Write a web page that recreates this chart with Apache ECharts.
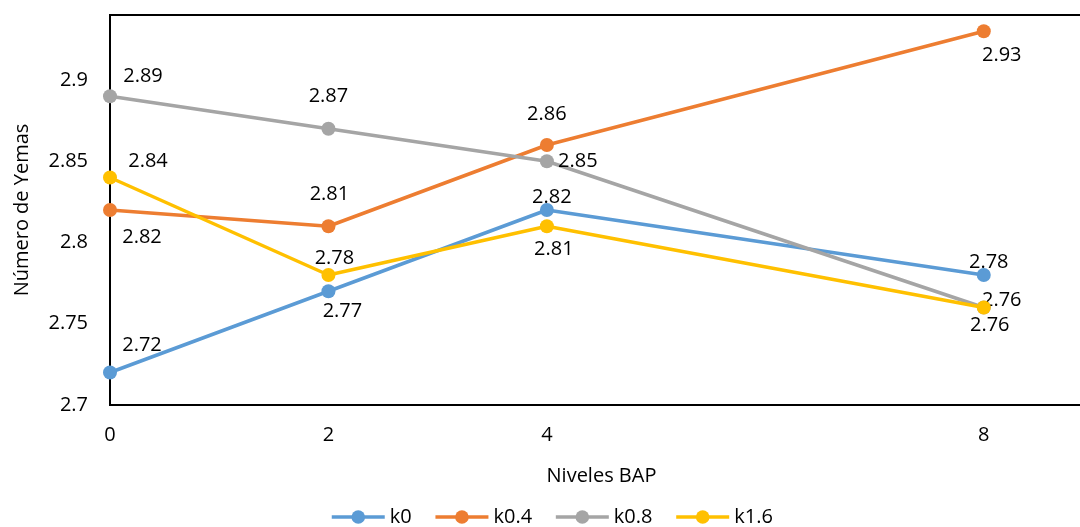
<!DOCTYPE html>
<html>
<head>
<meta charset="utf-8">
<script src="https://cdn.jsdelivr.net/npm/echarts@6/dist/echarts.min.js"></script>
<style>
  html, body { margin: 0; padding: 0; background: #fff; }
  #chart { width: 1080px; height: 527px; }
</style>
</head>
<body>
<div id="chart"></div>
<script>
// BAP levels on the x axis
const nivelesBAP = [0, 2, 4, 8];
const xTickLabels = [0, 2, 4, 8];
const yTickLabels = [2.7, 2.75, 2.8, 2.85, 2.9];

// Number of buds per treatment
const seriesNames = ['k0', 'k0.4', 'k0.8', 'k1.6'];
const k0 = [2.72, 2.77, 2.82, 2.78];
const k04 = [2.82, 2.81, 2.86, 2.93];
const k08 = [2.89, 2.87, 2.85, 2.76];
const k16 = [2.84, 2.78, 2.81, 2.76];

const colors = ['#5B9BD5', '#ED7D31', '#A5A5A5', '#FFC000'];

// Where each value label sits relative to its marker (px)
const labelOffsets = [
  [[32, -27], [14, 20], [5, -13], [5, -13]],
  [[32, 27], [1, -32], [0, -31], [18, 24]],
  [[33, -20], [0, -32], [31, 0], [18, -7]],
  [[38, -16], [6, -17], [7, 23], [6, 18]]
];

const FONT = 'Open Sans';
const FS = 20;

function buildSeries(name, values, idx) {
  return {
    name: name,
    type: 'line',
    data: values.map((v, i) => ({
      value: [nivelesBAP[i], v],
      label: { offset: labelOffsets[idx][i] }
    })),
    symbol: 'circle',
    symbolSize: 14,
    lineStyle: { width: 3.5, color: colors[idx] },
    itemStyle: { color: colors[idx] },
    label: {
      show: true,
      position: 'inside',
      color: '#000',
      fontFamily: FONT,
      fontSize: FS,
      formatter: p => p.value[1].toFixed(2)
    },
    emphasis: { disabled: true },
    animation: false,
    z: 2 + idx
  };
}

const chart = echarts.init(document.getElementById('chart'), null, { renderer: 'canvas' });
chart.setOption({
  backgroundColor: '#fff',
  animation: false,
  textStyle: { fontFamily: FONT },
  grid: {
    left: 110, top: 15, width: 983, height: 390,
    show: true, borderColor: '#000', borderWidth: 2,
    containLabel: false,
    outerBoundsMode: 'none'
  },
  xAxis: {
    type: 'value',
    min: 0, max: 9,
    name: 'Niveles BAP',
    nameLocation: 'middle',
    nameGap: 61,
    nameTextStyle: { color: '#000', fontFamily: FONT, fontSize: FS },
    axisLine: { show: false },
    axisTick: { show: false },
    splitLine: { show: false },
    axisLabel: {
      customValues: xTickLabels,
      color: '#000', fontFamily: FONT, fontSize: FS, margin: 20
    }
  },
  yAxis: {
    type: 'value',
    min: 2.7, max: 2.94, interval: 0.05,
    name: 'Número de Yemas',
    nameLocation: 'middle',
    nameGap: 78,
    nameTextStyle: { color: '#000', fontFamily: FONT, fontSize: FS },
    axisLine: { show: false },
    axisTick: { show: false },
    splitLine: { show: false },
    axisLabel: {
      customValues: yTickLabels,
      color: '#000', fontFamily: FONT, fontSize: FS, margin: 22,
      formatter: v => String(+v.toFixed(2))
    }
  },
  legend: {
    data: seriesNames,
    left: 325,
    top: 502,
    itemWidth: 53,
    itemHeight: 17,
    itemGap: 22,
    lineStyle: { width: 3.5 },
    textStyle: { color: '#000', fontFamily: FONT, fontSize: FS }
  },
  series: [
    buildSeries(seriesNames[0], k0, 0),
    buildSeries(seriesNames[1], k04, 1),
    buildSeries(seriesNames[2], k08, 2),
    buildSeries(seriesNames[3], k16, 3)
  ]
});
</script>
</body>
</html>
